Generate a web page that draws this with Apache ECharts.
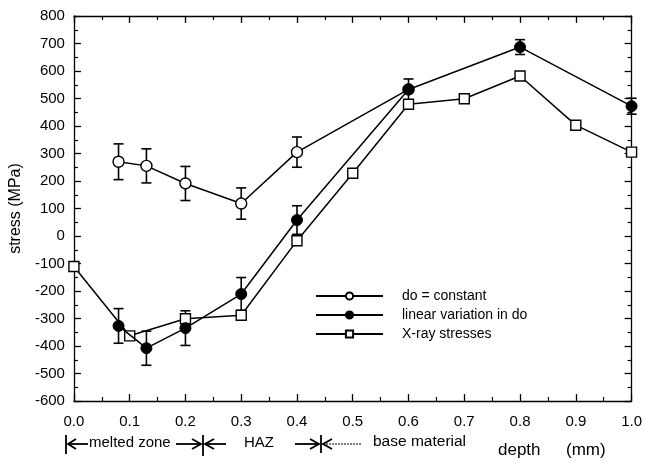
<!DOCTYPE html>
<html>
<head>
<meta charset="utf-8">
<script src="https://cdn.jsdelivr.net/npm/echarts@6/dist/echarts.min.js"></script>
<style>
html,body{margin:0;padding:0;background:#fff;}
#main{width:645px;height:465px;}
</style>
</head>
<body>
<div id="main"></div>
<script>
// depth (mm) and stress (MPa)
var depthConst = [0.08, 0.13, 0.2, 0.3, 0.4, 0.6];
var stressConst = [270, 255, 191, 118, 305, 533];
var errConst = [65, 62, 62, 57, 55, 0];

var depthLinear = [0.08, 0.13, 0.2, 0.3, 0.4, 0.6, 0.8, 1.0];
var stressLinear = [-327, -408, -335, -211, 58, 533, 687, 472];
var errLinear = [63, 62, 63, 60, 52, 38, 27, 29];

var depthXray = [0.0, 0.1, 0.2, 0.3, 0.4, 0.5, 0.6, 0.7, 0.8, 0.9, 1.0];
var stressXray = [-111, -363, -301, -288, -17, 228, 479, 499, 582, 403, 305];

var zoneLabels = ['melted zone', 'HAZ', 'base material'];

function pairs(xs, ys){
    var out = [];
    for(var i=0;i<xs.length;i++){ out.push([xs[i], ys[i]]); }
    return out;
}
function bars(xs, ys, es){
    var out = [];
    for(var i=0;i<xs.length;i++){
        if(es[i] > 0){ out.push([xs[i], ys[i]-es[i], ys[i]+es[i]]); }
    }
    return out;
}

/*误差线*/
function errorItem(params, api){
    var lo = api.coord([api.value(0), api.value(1)]);
    var hi = api.coord([api.value(0), api.value(2)]);
    var w = 5;
    var st = {stroke:'#000', lineWidth:1.6};
    return {
        type:'group',
        children:[
            {type:'line', shape:{x1:lo[0],y1:lo[1],x2:hi[0],y2:hi[1]}, style:st},
            {type:'line', shape:{x1:lo[0]-w,y1:lo[1],x2:lo[0]+w,y2:lo[1]}, style:st},
            {type:'line', shape:{x1:hi[0]-w,y1:hi[1],x2:hi[0]+w,y2:hi[1]}, style:st}
        ]
    };
}

var font = 'Liberation Sans, Arial, sans-serif';
var myChart = echarts.init(document.getElementById('main'));

var axisLine = {show:true, onZero:false, lineStyle:{color:'#000', width:1.3}};
var tick = {show:true, inside:true, length:7, lineStyle:{color:'#000', width:1.3}};
var minor = {show:true, splitNumber:2, length:4, lineStyle:{color:'#000', width:1.2}};

var st = {stroke:'#000', lineWidth:1.8, fill:null};
var annY = 444;

var option = {
    animation:false,
    backgroundColor:'#fff',
    grid:{left:69, right:13, top:16, bottom:64},
    xAxis:[
        {type:'value', min:0, max:1, interval:0.1, position:'bottom',
         axisLine:axisLine, axisTick:tick, minorTick:minor, splitLine:{show:false},
         axisLabel:{margin:13, color:'#000', fontSize:15, fontFamily:font,
            formatter:function(v){return v.toFixed(1);}}},
        {type:'value', min:0, max:1, interval:0.1, position:'top',
         axisLine:axisLine, axisTick:tick, minorTick:minor, splitLine:{show:false},
         axisLabel:{show:false}}
    ],
    yAxis:[
        {type:'value', min:-600, max:800, interval:100, position:'left',
         name:'stress (MPa)', nameLocation:'middle', nameGap:44, nameRotate:90,
         nameTextStyle:{color:'#000', fontSize:16, fontFamily:font},
         axisLine:axisLine, axisTick:tick, minorTick:minor, splitLine:{show:false},
         axisLabel:{margin:9, color:'#000', fontSize:15, fontFamily:font}},
        {type:'value', min:-600, max:800, interval:100, position:'right',
         axisLine:axisLine, axisTick:tick, minorTick:minor, splitLine:{show:false},
         axisLabel:{show:false}}
    ],
    legend:{
        orient:'vertical', left:310, top:284, itemWidth:67, itemHeight:9, itemGap:5,
        data:['do = constant','linear variation in do','X-ray stresses'],
        textStyle:{color:'#000', fontSize:14, fontFamily:font, padding:[0,0,0,14]}
    },
    series:[
        {type:'custom', renderItem:errorItem, data:bars(depthConst, stressConst, errConst), z:1, silent:true},
        {type:'custom', renderItem:errorItem, data:bars(depthLinear, stressLinear, errLinear), z:1, silent:true},
        {name:'do = constant', type:'line', data:pairs(depthConst, stressConst), z:3,
         symbol:'circle', symbolSize:11, color:'#000',
         lineStyle:{color:'#000', width:1.5},
         itemStyle:{color:'#fff', borderColor:'#000', borderWidth:1.4}},
        {name:'X-ray stresses', type:'line', data:pairs(depthXray, stressXray), z:4,
         symbol:'rect', symbolSize:10, color:'#000',
         lineStyle:{color:'#000', width:1.5},
         itemStyle:{color:'#fff', borderColor:'#000', borderWidth:1.4}},
        {name:'linear variation in do', type:'line', data:pairs(depthLinear, stressLinear), z:5,
         symbol:'circle', symbolSize:11, color:'#000',
         lineStyle:{color:'#000', width:1.5},
         itemStyle:{color:'#000', borderColor:'#000', borderWidth:1}}
    ],
    graphic:[
        // |<- melted zone ->|<- HAZ ->|<--- base material
        {type:'line', shape:{x1:66,y1:435,x2:66,y2:454}, style:st},
        {type:'polyline', shape:{points:[[76,439],[68,annY],[76,449]]}, style:st},
        {type:'line', shape:{x1:68,y1:annY,x2:88,y2:annY}, style:st},
        {type:'text', left:89, top:annY-9, style:{text:zoneLabels[0], font:'15px '+font, fill:'#000'}},
        {type:'line', shape:{x1:176,y1:annY,x2:201,y2:annY}, style:st},
        {type:'polyline', shape:{points:[[192,439],[201,annY],[192,449]]}, style:st},
        {type:'line', shape:{x1:203,y1:435,x2:203,y2:456}, style:st},
        {type:'polyline', shape:{points:[[214,439],[205,annY],[214,449]]}, style:st},
        {type:'line', shape:{x1:205,y1:annY,x2:226,y2:annY}, style:st},
        {type:'text', left:244, top:annY-9, style:{text:zoneLabels[1], font:'15px '+font, fill:'#000'}},
        {type:'line', shape:{x1:295,y1:annY,x2:319,y2:annY}, style:st},
        {type:'polyline', shape:{points:[[310,439],[319,annY],[310,449]]}, style:st},
        {type:'line', shape:{x1:321,y1:435,x2:321,y2:453}, style:st},
        {type:'polyline', shape:{points:[[332,439],[323,annY],[332,449]]}, style:st},
        {type:'line', shape:{x1:323,y1:annY,x2:362,y2:annY}, style:{stroke:'#000', lineWidth:1.2, lineDash:[2,1]}},
        {type:'text', left:373, top:annY-10, style:{text:zoneLabels[2], font:'15.5px '+font, fill:'#000'}},
        {type:'text', left:498, top:442, style:{text:'depth', font:'17px '+font, fill:'#000'}},
        {type:'text', left:566, top:442, style:{text:'(mm)', font:'17px '+font, fill:'#000'}}
    ]
};
myChart.setOption(option, true);
</script>
</body>
</html>
